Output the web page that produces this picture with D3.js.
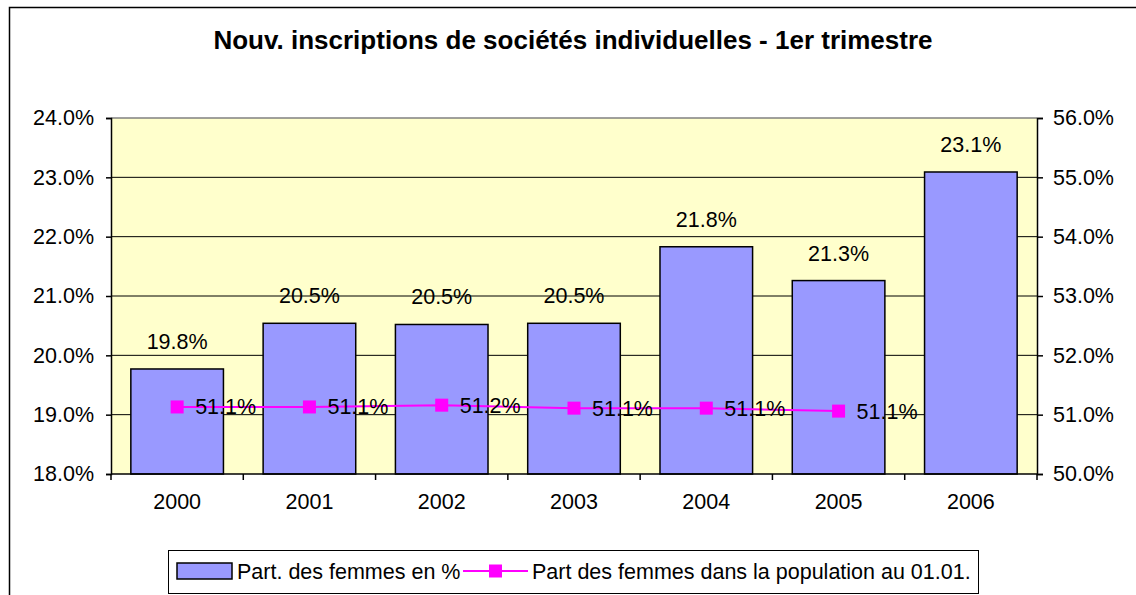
<!DOCTYPE html>
<html>
<head>
<meta charset="utf-8">
<script src="https://cdn.jsdelivr.net/npm/d3@7.9.0/dist/d3.min.js"></script>
<style>
  body { margin: 0; background: #fff; }
  svg { display: block; font-family: "Liberation Sans", Arial, sans-serif; }
</style>
</head>
<body>
<svg width="1136" height="595"></svg>
<script>
// chart data
const years = ["2000", "2001", "2002", "2003", "2004", "2005", "2006"];
const shareNew = [19.77, 20.54, 20.52, 20.54, 21.83, 21.26, 23.09];      // bars, left axis
const sharePop = [51.13, 51.13, 51.16, 51.11, 51.11, 51.06];             // line, right axis
const leftTicks = [18, 19, 20, 21, 22, 23, 24];
const rightTicks = [50, 51, 52, 53, 54, 55, 56];

const titleText = "Nouv. inscriptions de sociétés individuelles - 1er trimestre";
const barName = "Part. des femmes en %";
const lineName = "Part des femmes dans la population au 01.01.";

const svg = d3.select("svg");
const plot = { left: 111, top: 118, right: 1037, bottom: 474 };
const fs = 21.5;

// outer chart border
svg.append("rect")
    .attr("x", 9.5).attr("y", 7.5)
    .attr("width", 1140).attr("height", 600)
    .attr("fill", "#fff").attr("stroke", "#000").attr("stroke-width", 1.5);

// title
svg.append("text")
    .attr("x", 573).attr("y", 49)
    .attr("text-anchor", "middle")
    .attr("font-size", 26).attr("font-weight", "bold")
    .text(titleText);

// scales
const x = d3.scaleBand().domain(years)
    .range([plot.left, plot.right])
    .paddingInner(0.3).paddingOuter(0.15);
const yL = d3.scaleLinear().domain([18, 24]).range([plot.bottom, plot.top]);
const yR = d3.scaleLinear().domain([50, 56]).range([plot.bottom, plot.top]);
const fmt = d => d.toFixed(1) + "%";

// plot background
svg.append("rect")
    .attr("x", plot.left).attr("y", plot.top)
    .attr("width", plot.right - plot.left).attr("height", plot.bottom - plot.top)
    .attr("fill", "#FFFFCC");

// gridlines
svg.append("g").selectAll("line")
    .data(leftTicks.slice(1, -1))
    .join("line")
    .attr("x1", plot.left).attr("x2", plot.right)
    .attr("y1", d => yL(d)).attr("y2", d => yL(d))
    .attr("stroke", "#000").attr("stroke-width", 1);

// top border of plot area
svg.append("line")
    .attr("x1", plot.left).attr("x2", plot.right)
    .attr("y1", plot.top).attr("y2", plot.top)
    .attr("stroke", "#808080").attr("stroke-width", 1.5);

// bars
svg.append("g").selectAll("rect")
    .data(shareNew)
    .join("rect")
    .attr("x", (d, i) => x(years[i]))
    .attr("y", d => yL(d))
    .attr("width", x.bandwidth())
    .attr("height", d => yL(18) - yL(d))
    .attr("fill", "#9999FF")
    .attr("stroke", "#000").attr("stroke-width", 1.5);

// bar labels
svg.append("g").selectAll("text")
    .data(shareNew)
    .join("text")
    .attr("x", (d, i) => x(years[i]) + x.bandwidth() / 2)
    .attr("y", d => yL(d) - 20)
    .attr("text-anchor", "middle")
    .attr("font-size", fs)
    .text(d => fmt(d));

// axes
const axisL = d3.axisLeft(yL).tickValues(leftTicks).tickSize(5).tickPadding(12).tickFormat(fmt);
const axisR = d3.axisRight(yR).tickValues(rightTicks).tickSize(6).tickPadding(10).tickFormat(fmt);
const axisB = d3.axisBottom(x).tickSize(0).tickPadding(20);

function styleAxis(g) {
    g.select(".domain").attr("stroke", "#000").attr("stroke-width", 1.5);
    g.selectAll(".tick line").attr("stroke", "#000").attr("stroke-width", 1.5);
    g.selectAll("text").attr("font-size", fs).attr("fill", "#000")
        .attr("font-family", "Liberation Sans, Arial, sans-serif");
}

svg.append("g").attr("transform", `translate(${plot.left},0)`).call(axisL).call(styleAxis);
svg.append("g").attr("transform", `translate(${plot.right},0)`).call(axisR).call(styleAxis);
const gB = svg.append("g").attr("transform", `translate(0,${plot.bottom})`).call(axisB).call(styleAxis);
gB.select(".domain").attr("d", `M${plot.left},0H${plot.right}`);

// category separator ticks on x axis
svg.append("g").selectAll("line")
    .data(d3.range(years.length + 1))
    .join("line")
    .attr("x1", i => plot.left + i * x.step())
    .attr("x2", i => plot.left + i * x.step())
    .attr("y1", plot.bottom).attr("y2", plot.bottom + 6)
    .attr("stroke", "#000").attr("stroke-width", 1.5);

// population line
const cx = i => x(years[i]) + x.bandwidth() / 2;
const line = d3.line().x((d, i) => cx(i)).y(d => yR(d));
svg.append("path")
    .datum(sharePop)
    .attr("d", line)
    .attr("fill", "none")
    .attr("stroke", "#FF00FF").attr("stroke-width", 2);

svg.append("g").selectAll("rect")
    .data(sharePop)
    .join("rect")
    .attr("x", (d, i) => cx(i) - 6.5)
    .attr("y", d => yR(d) - 6.5)
    .attr("width", 13).attr("height", 13)
    .attr("fill", "#FF00FF");

svg.append("g").selectAll("text")
    .data(sharePop)
    .join("text")
    .attr("x", (d, i) => cx(i) + 18)
    .attr("y", d => yR(d) + 7.5)
    .attr("font-size", fs)
    .text(d => fmt(d));

// legend
const lg = svg.append("g");
lg.append("rect")
    .attr("x", 168.5).attr("y", 550.5)
    .attr("width", 810).attr("height", 43)
    .attr("fill", "#fff").attr("stroke", "#000").attr("stroke-width", 1);
lg.append("rect")
    .attr("x", 177).attr("y", 563)
    .attr("width", 55).attr("height", 16)
    .attr("fill", "#9999FF").attr("stroke", "#000").attr("stroke-width", 1.5);
lg.append("text")
    .attr("x", 237).attr("y", 579)
    .attr("font-size", fs)
    .text(barName);
lg.append("line")
    .attr("x1", 463).attr("x2", 528)
    .attr("y1", 571).attr("y2", 571)
    .attr("stroke", "#FF00FF").attr("stroke-width", 2);
lg.append("rect")
    .attr("x", 489).attr("y", 564.5)
    .attr("width", 13).attr("height", 13)
    .attr("fill", "#FF00FF");
lg.append("text")
    .attr("x", 532).attr("y", 579)
    .attr("font-size", fs)
    .text(lineName);
</script>
</body>
</html>
